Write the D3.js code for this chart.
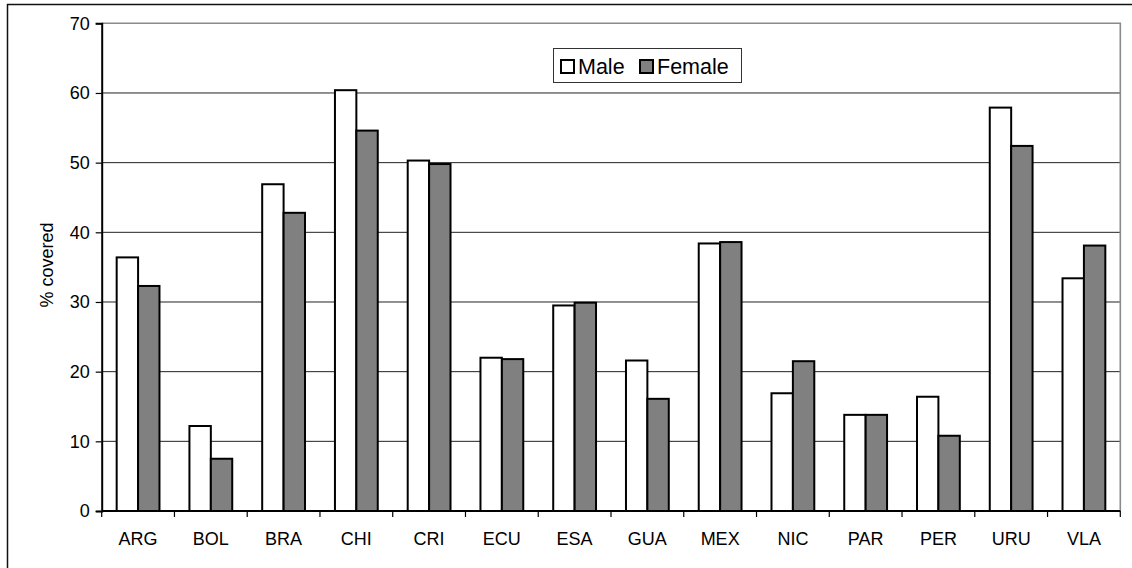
<!DOCTYPE html>
<html>
<head>
<meta charset="utf-8">
<script src="https://cdn.jsdelivr.net/npm/d3@7"></script>
<style>
  html, body { margin: 0; padding: 0; background: #fff; }
  svg { display: block; font-family: "Liberation Sans", Arial, sans-serif; }
</style>
</head>
<body>
<svg id="chart" width="1132" height="568"></svg>
<script>
// Coverage rates by country and sex (%)
const categories = ["ARG", "BOL", "BRA", "CHI", "CRI", "ECU", "ESA", "GUA", "MEX", "NIC", "PAR", "PER", "URU", "VLA"];
const seriesNames = ["Male", "Female"];
const maleValues   = [36.4, 12.2, 46.9, 60.4, 50.3, 22.0, 29.5, 21.6, 38.4, 16.9, 13.8, 16.4, 57.9, 33.4];
const femaleValues = [32.3, 7.5, 42.8, 54.6, 49.8, 21.8, 29.9, 16.1, 38.6, 21.5, 13.8, 10.8, 52.4, 38.1];
const yTicks = [0, 10, 20, 30, 40, 50, 60, 70];
const yTitle = "% covered";

const seriesFill = { Male: "#ffffff", Female: "#808080" };
const seriesValues = { Male: maleValues, Female: femaleValues };

const svg = d3.select("#chart");
const plot = { left: 101.7, right: 1120.3, top: 23.3, bottom: 511 };

// Outer chart frame (extends past the right and bottom edges)
svg.append("rect")
  .attr("x", 7.5).attr("y", 4.5)
  .attr("width", 1140).attr("height", 600)
  .attr("fill", "none").attr("stroke", "#111").attr("stroke-width", 1.5);

const y = d3.scaleLinear().domain([0, 70]).range([plot.bottom, plot.top]);
const x0 = d3.scaleBand().domain(categories).range([plot.left, plot.right]).paddingInner(0).paddingOuter(0);
const x1 = d3.scaleBand().domain(seriesNames).range([0, x0.bandwidth()]).paddingInner(0).paddingOuter(0.7);

// Horizontal gridlines
svg.append("g")
  .selectAll("line")
  .data(yTicks.filter(t => t > 0 && t < 70))
  .join("line")
  .attr("x1", plot.left).attr("x2", plot.right)
  .attr("y1", d => y(d)).attr("y2", d => y(d))
  .attr("stroke", "#222").attr("stroke-width", 1);

// Plot-area border: top and right in gray
svg.append("path")
  .attr("d", `M${plot.left},${y(70)}H${plot.right}V${plot.bottom}`)
  .attr("fill", "none").attr("stroke", "#8a8a8a").attr("stroke-width", 1.6);

// Bars
const groups = svg.append("g")
  .selectAll("g")
  .data(categories)
  .join("g")
  .attr("transform", d => `translate(${x0(d)},0)`);

groups.selectAll("rect")
  .data((c, i) => seriesNames.map(s => ({ s, v: seriesValues[s][i] })))
  .join("rect")
  .attr("x", d => x1(d.s))
  .attr("width", x1.bandwidth())
  .attr("y", d => y(d.v))
  .attr("height", d => y(0) - y(d.v))
  .attr("fill", d => seriesFill[d.s])
  .attr("stroke", "#000")
  .attr("stroke-width", 2);

// Y axis
const yAxis = d3.axisLeft(y).tickValues(yTicks).tickSize(6).tickPadding(6).tickFormat(d3.format("d"));
const gy = svg.append("g").attr("transform", `translate(${plot.left},0)`).call(yAxis);
gy.select(".domain").attr("stroke", "#000").attr("stroke-width", 2);
gy.selectAll(".tick line").attr("stroke", "#000").attr("stroke-width", 1.2);
gy.selectAll(".tick text").attr("font-size", 18).attr("fill", "#000")
  .attr("font-family", "Liberation Sans, Arial, sans-serif");

// X axis with ticks at category boundaries
const gx = svg.append("g").attr("transform", `translate(0,${plot.bottom})`);
gx.append("line")
  .attr("x1", plot.left).attr("x2", plot.right)
  .attr("stroke", "#000").attr("stroke-width", 2);
const boundaries = categories.map(c => x0(c)).concat([plot.right]);
gx.selectAll("line.tk")
  .data(boundaries)
  .join("line").attr("class", "tk")
  .attr("x1", d => d).attr("x2", d => d)
  .attr("y1", 0).attr("y2", 6)
  .attr("stroke", "#000").attr("stroke-width", 1.2);
gx.selectAll("text")
  .data(categories)
  .join("text")
  .attr("x", d => x0(d) + x0.bandwidth() / 2)
  .attr("y", 33.5)
  .attr("text-anchor", "middle")
  .attr("font-size", 18)
  .attr("fill", "#000")
  .text(d => d);

// Y axis title
svg.append("text")
  .attr("transform", `translate(53,265) rotate(-90)`)
  .attr("text-anchor", "middle")
  .attr("font-size", 18)
  .attr("fill", "#000")
  .text(yTitle);

// Legend
const legend = svg.append("g");
legend.append("rect")
  .attr("x", 553.5).attr("y", 48.5).attr("width", 188).attr("height", 34)
  .attr("fill", "#fff").attr("stroke", "#333").attr("stroke-width", 1);
const legendItems = [
  { s: "Male", sx: 561, tx: 578 },
  { s: "Female", sx: 640, tx: 657 }
];
legend.selectAll("rect.sw")
  .data(legendItems)
  .join("rect").attr("class", "sw")
  .attr("x", d => d.sx).attr("y", 60).attr("width", 13).attr("height", 13)
  .attr("fill", d => seriesFill[d.s]).attr("stroke", "#000").attr("stroke-width", 2);
legend.selectAll("text")
  .data(legendItems)
  .join("text")
  .attr("x", d => d.tx).attr("y", 73.5)
  .attr("font-size", 21.5)
  .attr("fill", "#000")
  .text(d => d.s);
</script>
</body>
</html>
